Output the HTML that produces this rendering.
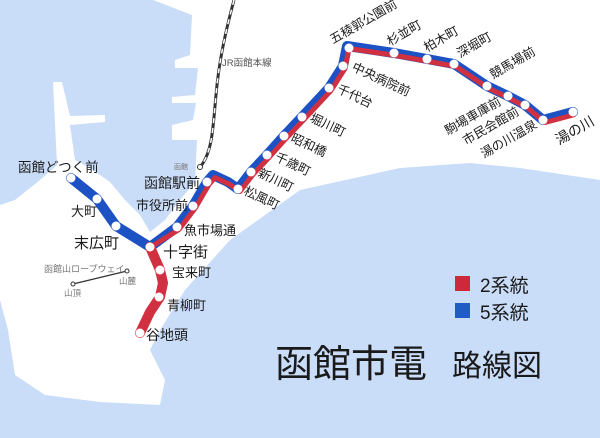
<!DOCTYPE html>
<html><head><meta charset="utf-8"><style>
html,body{margin:0;padding:0;background:#c9dcf8;}
svg{display:block}
text{font-family:"Liberation Sans","Noto Sans CJK JP",sans-serif;fill:#1a1a1a}
</style></head><body>
<svg width="600" height="438" viewBox="0 0 600 438" xmlns="http://www.w3.org/2000/svg">
<rect width="600" height="438" fill="#c9dcf8"/>
<path fill="#fff" d="M153,0 L600,0 L600,180 L520,168 L470,163 L400,168 L300,190 L230,240 L185,290 L160,330 L150,350 L165,380 L160,405 L100,402 L45,395 L15,375 L8,330 L0,300 L0,205 L15,200 L40,180 L57,165 L53,82 L62,82 L70,116 L105,115 L105,122 L70,125 L75,160 L90,168 L110,182 L125,200 L140,215 L150,232 L165,220 L180,200 L195,182 L197,140 L172,140 L172,125 L193,120 L196,103 L172,103 L172,97 L195,95 L198,68 L175,68 L175,60 L190,55 L192,15 Z"/>
<!-- JR line -->
<path d="M234,0 C226,30 219,60 216,95 C213,125 213,150 201,166" fill="none" stroke="#333" stroke-width="3"/>
<path d="M234,0 C226,30 219,60 216,95 C213,125 213,150 201,166" fill="none" stroke="#fff" stroke-width="1.5" stroke-dasharray="5 5"/>
<circle cx="200" cy="167" r="2.5" fill="#fff" stroke="#333" stroke-width="1"/>
<text x="222" y="66" font-size="9.5" style="fill:#555">JR函館本線</text>
<text x="174" y="169" font-size="7" style="fill:#777">函館</text>
<!-- ropeway -->
<line x1="73" y1="284" x2="127" y2="271" stroke="#333" stroke-width="1.3"/>
<circle cx="73" cy="284" r="2" fill="#fff" stroke="#333"/>
<circle cx="127" cy="271" r="2" fill="#fff" stroke="#333"/>
<text x="44" y="272" font-size="9" style="fill:#777">函館山ロープウェイ</text>
<text x="64" y="296" font-size="8.5" style="fill:#777">山頂</text>
<text x="119" y="284" font-size="8.5" style="fill:#777">山麓</text>
<!-- routes -->
<polyline fill="none" stroke="#1d52c4" stroke-width="10" stroke-linejoin="round" stroke-linecap="round" points="71,178 97,199 116,226 150,247 177,227 193,206 207,182 213,175 228,182 238,189 251,172 267,155 284,136 302,117 329,88 343,66 347,46 394,53 427,59 454,64 487,86 508,96 525,105 543,120 573,112"/>
<polyline fill="none" stroke="#d03040" stroke-width="10" stroke-linejoin="round" stroke-linecap="round" points="140,333 150,312 160,297 163,283 160,270 150,247"/>
<g transform="translate(2,2.5)">
<polyline fill="none" stroke="#d03040" stroke-width="5" stroke-linejoin="round" points="148,245 177,227 193,206 207,182 213,175 228,182 238,189 251,172 267,155 284,136 302,117 329,88 343,66 347,46 394,53 427,59 454,64 487,86 508,96 525,105 543,120 573,112"/>
</g>
<g fill="#fff">
<circle cx="71" cy="178" r="4.5"/><circle cx="97" cy="199" r="4.5"/><circle cx="116" cy="226" r="4.5"/>
<circle cx="150" cy="247" r="4.5"/><circle cx="177" cy="227" r="4.5"/><circle cx="193" cy="206" r="4.5"/>
<circle cx="207" cy="182" r="4.5"/><circle cx="238" cy="189" r="4.5"/><circle cx="251" cy="172" r="4.5"/>
<circle cx="267" cy="155" r="4.5"/><circle cx="284" cy="136" r="4.5"/><circle cx="302" cy="117" r="4.5"/>
<circle cx="329" cy="88" r="4.5"/><circle cx="343" cy="66" r="4.5"/><circle cx="349" cy="48" r="4.5"/>
<circle cx="394" cy="53" r="4.5"/><circle cx="427" cy="59" r="4.5"/><circle cx="454" cy="64" r="4.5"/>
<circle cx="487" cy="86" r="4.5"/><circle cx="508" cy="96" r="4.5"/><circle cx="525" cy="105" r="4.5"/>
<circle cx="543" cy="120" r="4.5"/><circle cx="573" cy="112" r="4.5"/>
<circle cx="160" cy="270" r="4.5"/><circle cx="159" cy="297" r="4.5"/><circle cx="140" cy="333" r="4.5"/>
</g>
<!-- horizontal labels -->
<text x="18" y="172" font-size="13.5">函館どつく前</text>
<text x="71" y="216" font-size="13">大町</text>
<text x="74" y="248" font-size="15">末広町</text>
<text x="144" y="188" font-size="14">函館駅前</text>
<text x="136" y="210" font-size="13">市役所前</text>
<text x="184" y="235" font-size="13">魚市場通</text>
<text x="163" y="257" font-size="15">十字街</text>
<text x="172" y="277" font-size="13">宝来町</text>
<text x="167" y="310" font-size="13">青柳町</text>
<text x="146" y="340" font-size="14">谷地頭</text>
<!-- rotated labels -->
<g font-size="12.5">
<text transform="translate(333,44) rotate(-30)">五稜郭公園前</text>
<text transform="translate(390,46) rotate(-30)">杉並町</text>
<text transform="translate(427,52) rotate(-30)">柏木町</text>
<text transform="translate(460,58) rotate(-30)">深堀町</text>
<text transform="translate(493,79) rotate(-30)">競馬場前</text>
<text transform="translate(351,70) rotate(25)">中央病院前</text>
<text transform="translate(336,92) rotate(25)">千代台</text>
<text transform="translate(309,121) rotate(25)">堀川町</text>
<text transform="translate(290,141) rotate(25)">昭和橋</text>
<text transform="translate(274,160) rotate(25)">千歳町</text>
<text transform="translate(257,176) rotate(25)">新川町</text>
<text transform="translate(243,194) rotate(25)">松風町</text>
<text transform="translate(502,104) rotate(-30)" text-anchor="end">駒場車庫前</text>
<text transform="translate(520,114) rotate(-30)" text-anchor="end">市民会館前</text>
<text transform="translate(538,127) rotate(-30)" text-anchor="end">湯の川温泉</text>
<text transform="translate(559,145) rotate(-30)" font-size="14">湯の川</text>
</g>
<!-- legend -->
<rect x="455" y="276" width="15" height="15" fill="#cc2a3c"/>
<text x="480" y="292" font-size="19">2系統</text>
<rect x="455" y="303" width="15" height="15" fill="#1f5cc4"/>
<text x="480" y="319" font-size="19">5系統</text>
<text x="275" y="377" font-size="38">函館市電</text>
<text x="452" y="376" font-size="30">路線図</text>
</svg>
</body></html>
